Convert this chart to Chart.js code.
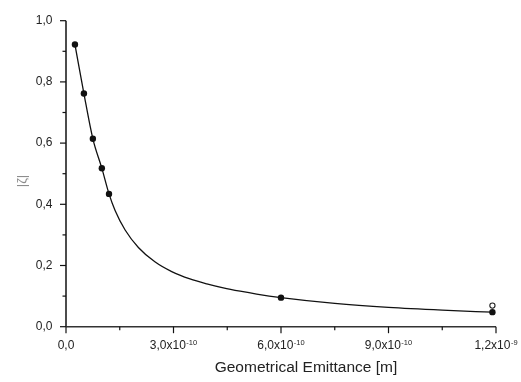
<!DOCTYPE html>
<html>
<head>
<meta charset="utf-8">
<script src="https://cdn.jsdelivr.net/npm/chart.js@4/dist/chart.umd.min.js"></script>
<style>
  html, body { margin: 0; padding: 0; background: #fff; }
  #wrap { width: 521px; height: 382px; }
</style>
</head>
<body>
<div id="wrap"><canvas id="c" width="521" height="382"></canvas></div>
<script>
// x values in units of 1e-10 m
const curveX = [0.25, 0.5, 0.75, 1.0, 1.2, 1.37, 1.65, 2.02, 2.48, 2.95, 3.46, 3.93, 4.39, 4.86, 5.32, 6.0, 7.5, 9.0, 10.5, 11.9];
const curveY = [0.922, 0.762, 0.614, 0.518, 0.434, 0.380, 0.316, 0.259, 0.212, 0.180, 0.156, 0.140, 0.127, 0.116, 0.1065, 0.095, 0.076, 0.063, 0.054, 0.0475];

const filledX = [0.25, 0.5, 0.75, 1.0, 1.2, 6.0, 11.9];
const filledY = [0.922, 0.762, 0.614, 0.518, 0.434, 0.095, 0.0475];

const openX = [11.9];
const openY = [0.069];

const yMajorTicks = [0, 0.2, 0.4, 0.6, 0.8, 1.0];
const yMinorTicks = [0.1, 0.3, 0.5, 0.7, 0.9];
const xMajorTicks = [0, 3, 6, 9, 12];
const xMinorTicks = [1.5, 4.5, 7.5, 10.5];
const xTickMain = ['0,0', '3,0x10', '6,0x10', '9,0x10', '1,2x10'];
const xTickSup  = ['', '-10', '-10', '-10', '-9'];

const xTitle = 'Geometrical Emittance [m]';
const yTitle = '|\u03B6|';

const FONT = '"Liberation Sans", Arial, Helvetica, sans-serif';

const toPts = (xs, ys) => xs.map((x, i) => ({ x: x, y: ys[i] }));

const axesPlugin = {
  id: 'customAxes',
  afterDraw(chart) {
    const ctx = chart.ctx;
    const xs = chart.scales.x, ys = chart.scales.y;
    const x0 = xs.getPixelForValue(0), x1 = xs.getPixelForValue(12);
    const y0 = ys.getPixelForValue(0), y1 = ys.getPixelForValue(1);
    ctx.save();
    ctx.lineCap = 'butt';
    // axis lines
    ctx.strokeStyle = '#111';
    ctx.lineWidth = 1.5;
    ctx.beginPath(); ctx.moveTo(x0, y1); ctx.lineTo(x0, y0); ctx.stroke();
    ctx.strokeStyle = '#333';
    ctx.beginPath(); ctx.moveTo(x0, y0); ctx.lineTo(x1, y0); ctx.stroke();
    // y ticks
    ctx.strokeStyle = '#111';
    ctx.lineWidth = 1.2;
    yMajorTicks.forEach(v => {
      const p = ys.getPixelForValue(v);
      ctx.beginPath(); ctx.moveTo(x0 - 6, p); ctx.lineTo(x0, p); ctx.stroke();
    });
    yMinorTicks.forEach(v => {
      const p = ys.getPixelForValue(v);
      ctx.beginPath(); ctx.moveTo(x0 - 3.5, p); ctx.lineTo(x0, p); ctx.stroke();
    });
    // x ticks
    xMajorTicks.forEach(v => {
      const p = xs.getPixelForValue(v);
      ctx.beginPath(); ctx.moveTo(p, y0); ctx.lineTo(p, y0 + 6.5); ctx.stroke();
    });
    xMinorTicks.forEach(v => {
      const p = xs.getPixelForValue(v);
      ctx.beginPath(); ctx.moveTo(p, y0); ctx.lineTo(p, y0 + 3.5); ctx.stroke();
    });
    // x tick labels with superscripts
    ctx.fillStyle = '#222';
    ctx.textBaseline = 'alphabetic';
    ctx.textAlign = 'left';
    xMajorTicks.forEach((v, i) => {
      const p = xs.getPixelForValue(v);
      ctx.font = '12px ' + FONT;
      const wMain = ctx.measureText(xTickMain[i]).width;
      ctx.font = '7.5px ' + FONT;
      const wSup = xTickSup[i] ? ctx.measureText(xTickSup[i]).width + 0.5 : 0;
      const start = p - (wMain + wSup) / 2;
      ctx.font = '12px ' + FONT;
      ctx.fillText(xTickMain[i], start, 349);
      if (xTickSup[i]) {
        ctx.font = '7.5px ' + FONT;
        ctx.fillText(xTickSup[i], start + wMain + 0.5, 344.5);
      }
    });
    // x title
    ctx.font = '15.5px ' + FONT;
    ctx.fillStyle = '#222';
    ctx.textAlign = 'center';
    ctx.fillText(xTitle, 306, 372);
    // y title
    ctx.save();
    ctx.translate(22, 181);
    ctx.rotate(-Math.PI / 2);
    ctx.font = '13px ' + FONT;
    ctx.fillStyle = '#8a8a8a';
    ctx.textAlign = 'center';
    ctx.textBaseline = 'middle';
    ctx.fillText(yTitle, 0, 0);
    ctx.restore();
    ctx.restore();
  }
};

new Chart(document.getElementById('c'), {
  type: 'scatter',
  data: {
    datasets: [
      {
        type: 'line',
        data: toPts(curveX, curveY),
        borderColor: '#111',
        borderWidth: 1.3,
        pointRadius: 0,
        fill: false,
        cubicInterpolationMode: 'monotone',
        order: 3
      },
      {
        data: toPts(filledX, filledY),
        backgroundColor: '#111',
        borderColor: '#111',
        borderWidth: 0,
        pointRadius: 3.2,
        order: 2
      },
      {
        data: toPts(openX, openY),
        backgroundColor: '#fff',
        borderColor: '#222',
        borderWidth: 1.1,
        pointRadius: 2.6,
        order: 1
      }
    ]
  },
  options: {
    responsive: false,
    animation: false,
    events: [],
    layout: { padding: { top: 10.7, right: 25, left: 0, bottom: 0 } },
    plugins: { legend: { display: false }, tooltip: { enabled: false } },
    scales: {
      x: {
        type: 'linear', min: 0, max: 12,
        grid: { display: false, drawTicks: false },
        border: { display: false },
        ticks: { display: false },
        afterFit(scale) { scale.height = 55.3; }
      },
      y: {
        type: 'linear', min: 0, max: 1,
        grid: { display: false, drawTicks: false },
        border: { display: false },
        ticks: {
          stepSize: 0.2,
          padding: 13.5,
          color: '#222',
          font: { family: FONT, size: 12 },
          callback: v => v.toFixed(1).replace('.', ',')
        },
        afterFit(scale) { scale.width = 66; }
      }
    }
  },
  plugins: [axesPlugin]
});
</script>
</body>
</html>
